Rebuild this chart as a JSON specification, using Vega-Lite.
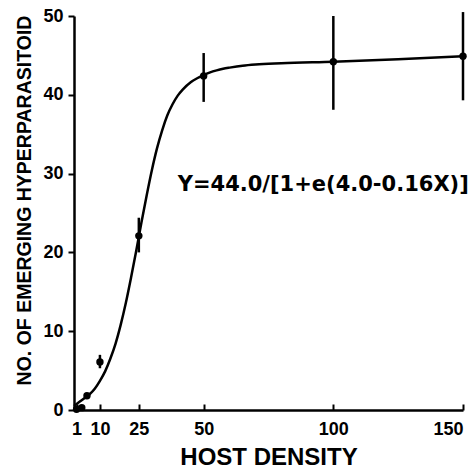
{
  "$schema": "https://vega.github.io/schema/vega-lite/v6.json",
  "width": 389,
  "height": 394,
  "autosize": "none",
  "padding": {"left": 74, "top": 16, "right": 9, "bottom": 61},
  "background": "white",
  "config": {
    "view": {"stroke": null},
    "axis": {
      "domainColor": "black",
      "domainWidth": 2.5,
      "tickColor": "black",
      "tickWidth": 2,
      "grid": false,
      "labelColor": "black",
      "labelFont": "Liberation Sans",
      "labelFontWeight": "bold",
      "titleColor": "black",
      "titleFont": "Liberation Sans",
      "titleFontWeight": "bold"
    }
  },
  "datasets": {
    "curve": [
      {"density": 0, "count": 0.5},
      {"density": 2, "count": 1.0},
      {"density": 4, "count": 1.5},
      {"density": 6, "count": 2.0},
      {"density": 8, "count": 2.7},
      {"density": 10, "count": 3.7},
      {"density": 12, "count": 4.9},
      {"density": 14, "count": 6.5},
      {"density": 16, "count": 8.4},
      {"density": 18, "count": 10.8},
      {"density": 20, "count": 13.6},
      {"density": 22, "count": 16.8},
      {"density": 24, "count": 20.2},
      {"density": 26, "count": 23.8},
      {"density": 28, "count": 27.2},
      {"density": 30, "count": 30.4},
      {"density": 32, "count": 33.2},
      {"density": 34, "count": 35.5},
      {"density": 36, "count": 37.4},
      {"density": 38, "count": 38.8},
      {"density": 40, "count": 39.9},
      {"density": 42, "count": 40.7},
      {"density": 45, "count": 41.6},
      {"density": 47.5, "count": 42.1},
      {"density": 50, "count": 42.5},
      {"density": 52.5, "count": 42.85},
      {"density": 55, "count": 43.1},
      {"density": 57.5, "count": 43.3},
      {"density": 60, "count": 43.45},
      {"density": 65, "count": 43.7},
      {"density": 70, "count": 43.85},
      {"density": 80, "count": 44.0},
      {"density": 100, "count": 44.2},
      {"density": 125, "count": 44.5},
      {"density": 150, "count": 44.9}
    ],
    "obs": [
      {"density": 1, "count": 0.1},
      {"density": 3, "count": 0.3},
      {"density": 5, "count": 1.8},
      {"density": 10, "count": 6.1, "lo": 5.3, "hi": 7.0},
      {"density": 25, "count": 22.1, "lo": 20.0, "hi": 24.4},
      {"density": 50, "count": 42.4, "lo": 39.1, "hi": 45.3},
      {"density": 100, "count": 44.2, "lo": 38.1, "hi": 50.0},
      {"density": 150, "count": 44.9, "lo": 39.3, "hi": 50.5}
    ],
    "note": [
      {"density": 40, "count": 28.5, "label": "Y=44.0/[1+e(4.0-0.16X)]"}
    ]
  },
  "layer": [
    {
      "data": {"name": "curve"},
      "mark": {"type": "line", "color": "black", "strokeWidth": 2.5, "interpolate": "monotone"},
      "encoding": {
        "x": {
          "field": "density", "type": "quantitative", "title": "HOST DENSITY",
          "scale": {"domain": [0, 150], "nice": false, "zero": false},
          "axis": {
            "values": [1, 10, 25, 50, 100, 150],
            "tickSize": -6,
            "labelPadding": 16,
            "labelFontSize": 18,
            "labelFlush": true,
            "labelOverlap": false,
            "titleFontSize": 24,
            "titleY": 47,
            "titleBaseline": "middle"
          }
        },
        "y": {
          "field": "count", "type": "quantitative", "title": "NO. OF EMERGING HYPERPARASITOID",
          "scale": {"domain": [0, 50], "nice": false},
          "axis": {
            "values": [0, 10, 20, 30, 40, 50],
            "tickSize": 6,
            "labelPadding": 5,
            "labelFontSize": 18,
            "labelBaseline": "middle",
            "labelFlush": false,
            "titleFontSize": 19.5,
            "titleAngle": 270,
            "titleX": -50,
            "titleY": 184,
            "titleAlign": "center",
            "titleBaseline": "middle"
          }
        }
      }
    },
    {
      "data": {"name": "obs"},
      "mark": {"type": "rule", "color": "black", "strokeWidth": 2.5},
      "encoding": {
        "x": {"field": "density", "type": "quantitative", "title": "HOST DENSITY"},
        "y": {"field": "lo", "type": "quantitative", "title": "NO. OF EMERGING HYPERPARASITOID"},
        "y2": {"field": "hi"}
      }
    },
    {
      "data": {"name": "obs"},
      "mark": {"type": "point", "filled": true, "color": "black", "size": 55, "opacity": 1},
      "encoding": {
        "x": {"field": "density", "type": "quantitative", "title": "HOST DENSITY"},
        "y": {"field": "count", "type": "quantitative", "title": "NO. OF EMERGING HYPERPARASITOID"}
      }
    },
    {
      "data": {"name": "note"},
      "mark": {"type": "text", "align": "left", "baseline": "middle", "font": "DejaVu Sans", "fontWeight": "bold", "fontSize": 21, "color": "black"},
      "encoding": {
        "x": {"field": "density", "type": "quantitative", "title": "HOST DENSITY"},
        "y": {"field": "count", "type": "quantitative", "title": "NO. OF EMERGING HYPERPARASITOID"},
        "text": {"field": "label"}
      }
    }
  ]
}
